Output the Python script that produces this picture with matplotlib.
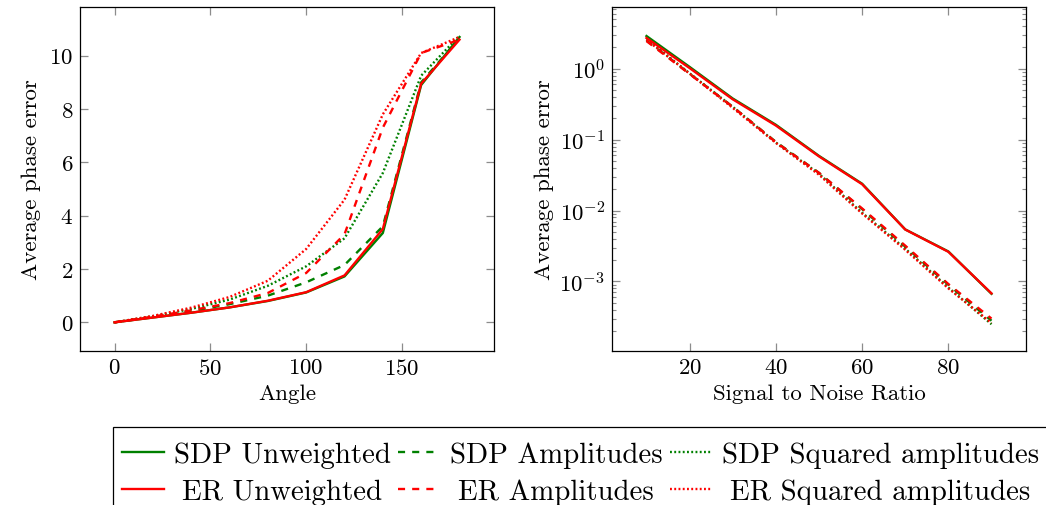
import numpy as np
import matplotlib
matplotlib.use("Agg")
import matplotlib.pyplot as plt
from matplotlib.patches import Rectangle
from matplotlib.ticker import LogLocator, NullFormatter

plt.rcParams['font.family'] = ['cmr10', 'DejaVu Serif']
plt.rcParams['mathtext.fontset'] = 'cm'
plt.rcParams['axes.formatter.use_mathtext'] = True
plt.rcParams['axes.unicode_minus'] = False

# left panel: error vs angle
angle = [0, 20, 40, 60, 80, 100, 120, 140, 160, 180]
sdp_unw_a = [0, 0.18, 0.36, 0.56, 0.80, 1.12, 1.72, 3.35, 8.90, 10.70]
sdp_amp_a = [0, 0.20, 0.42, 0.68, 1.00, 1.50, 2.15, 3.60, 9.00, 10.65]
sdp_sq_a = [0, 0.23, 0.50, 0.85, 1.37, 2.10, 3.15, 5.60, 9.25, 10.75]
er_unw_a = [0, 0.18, 0.36, 0.56, 0.81, 1.13, 1.76, 3.50, 8.95, 10.60]
er_amp_a = [0, 0.21, 0.45, 0.72, 1.10, 1.85, 3.30, 7.30, 10.10, 10.60]
er_sq_a = [0, 0.24, 0.55, 0.95, 1.56, 2.75, 4.60, 7.80, 10.10, 10.70]

# right panel: error vs SNR
snr = [10, 20, 30, 40, 50, 60, 70, 80, 90]
sdp_unw_s = [2.89, 1.06, 0.38, 0.162, 0.059, 0.0239, 0.00542, 0.00265, 0.00067]
er_unw_s = [2.71, 1.02, 0.37, 0.158, 0.058, 0.0235, 0.00540, 0.00262, 0.00068]
sdp_amp_s = [2.50, 0.85, 0.29, 0.093, 0.034, 0.0105, 0.0031, 0.00090, 0.00028]
er_amp_s = [2.45, 0.84, 0.29, 0.092, 0.034, 0.0107, 0.0032, 0.00092, 0.00030]
sdp_sq_s = [2.60, 0.86, 0.29, 0.091, 0.033, 0.0093, 0.0029, 0.00082, 0.00025]
er_sq_s = [2.55, 0.85, 0.28, 0.090, 0.032, 0.0091, 0.0028, 0.00080, 0.00026]

labels = ['SDP Unweighted', 'SDP Amplitudes', 'SDP Squared amplitudes',
          'ER Unweighted', 'ER Amplitudes', 'ER Squared amplitudes']

green = '#008000'
red = '#ff0000'
dashed = (0, (3, 3))
dotted = (0, (0.8, 1.0))
lw = 1.7

fig = plt.figure(figsize=(10.46, 5.06), dpi=100)
ax1 = fig.add_axes([80/1046, 154/506, 414/1046, 344/506])
ax2 = fig.add_axes([612/1046, 154/506, 414/1046, 344/506])

styles = [(green, '-'), (green, dashed), (green, dotted),
          (red, '-'), (red, dashed), (red, dotted)]

left_data = [sdp_unw_a, sdp_amp_a, sdp_sq_a, er_unw_a, er_amp_a, er_sq_a]
right_data = [sdp_unw_s, sdp_amp_s, sdp_sq_s, er_unw_s, er_amp_s, er_sq_s]

handles = []
for (c, ls), yv, lab in zip(styles, left_data, labels):
    h, = ax1.plot(angle, yv, color=c, linestyle=ls, lw=lw, label=lab)
    handles.append(h)
for (c, ls), yv in zip(styles, right_data):
    ax2.plot(snr, yv, color=c, linestyle=ls, lw=lw)

fs = 16.5
ax1.set_xlim(-18, 198)
ax1.set_ylim(-1.075, 11.825)
ax1.set_xticks([0, 50, 100, 150])
ax1.set_yticks([0, 2, 4, 6, 8, 10])
ax1.set_xlabel('Angle', fontsize=fs, labelpad=4)
ax1.set_ylabel('Average phase error', fontsize=fs, labelpad=6)

ax2.set_yscale('log')
ax2.set_xlim(2, 98)
ax2.set_ylim(10**-3.98, 10**0.87)
ax2.set_xticks([20, 40, 60, 80])
ax2.yaxis.set_major_locator(LogLocator(base=10, numticks=10))
ax2.yaxis.set_minor_locator(LogLocator(base=10, subs=np.arange(2, 10), numticks=20))
ax2.yaxis.set_minor_formatter(NullFormatter())
ax2.set_xlabel('Signal to Noise Ratio', fontsize=fs, labelpad=4)
ax2.set_ylabel('Average phase error', fontsize=fs, labelpad=4)

for ax in (ax1, ax2):
    ax.tick_params(which='major', direction='in', top=True, right=True,
                   length=5.5, width=0.9, color='0.55', labelsize=fs, pad=5)
    ax.tick_params(which='minor', direction='in', top=True, right=True,
                   length=3.2, width=0.8, color='0.55')
    for sp in ax.spines.values():
        sp.set_linewidth(0.9)
        sp.set_color('black')

order = [0, 3, 1, 4, 2, 5]
leg = fig.legend([handles[i] for i in order], [labels[i] for i in order],
                 loc='upper left', bbox_to_anchor=(113/1046, 1 - 434/506),
                 ncol=3, fontsize=20.8, frameon=False, borderpad=0.3,
                 handlelength=1.45, handletextpad=0.35, columnspacing=0.25,
                 labelspacing=0.36, borderaxespad=0)

# legend frame runs off the right and bottom edges of the picture
fig.patches.append(Rectangle((113/1046, -0.1), 1.0, 0.1 + (506 - 428)/506,
                             transform=fig.transFigure, fill=False,
                             edgecolor='black', lw=0.9, clip_on=False))

# centre the shorter ER labels under the SDP labels, as pgfplots does
fig.canvas.draw()
texts = leg.get_texts()
for k in range(3):
    top, bot = texts[2*k], texts[2*k + 1]
    dw = top.get_window_extent().width - bot.get_window_extent().width
    bot.set_x(dw / 2)

fig.savefig('out.png', dpi=100)
